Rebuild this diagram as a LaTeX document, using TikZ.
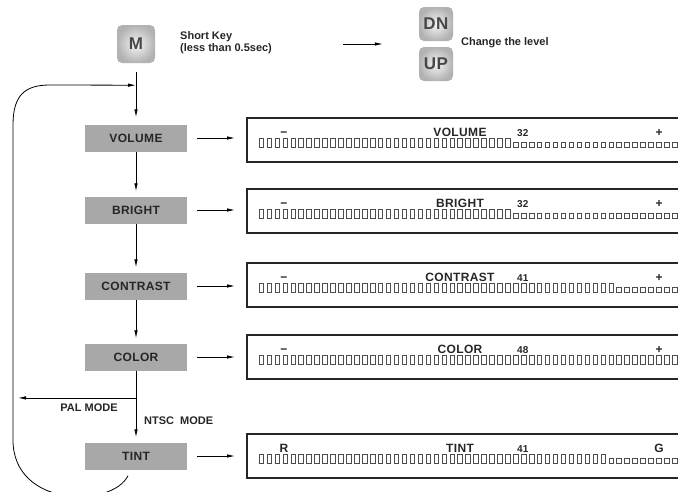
\documentclass[tikz,border=0pt]{standalone}
\usepackage{fontspec}
\setmainfont{Liberation Sans}
\newfontfamily\wide[LetterSpace=3]{Liberation Sans}
\usetikzlibrary{arrows.meta}
\usetikzlibrary{calc}
\usepackage{xcolor}
\definecolor{menugray}{HTML}{A8A8A8}
\definecolor{txtgray}{HTML}{262626}

\begin{document}
\begin{tikzpicture}[x=1pt,y=-1pt,
    menu/.style={fill=menugray, minimum width=102pt, minimum height=27pt, inner sep=0pt,
      font=\wide\fontsize{12}{14}\selectfont\bfseries, text=txtgray},
    keybtn/.style={rounded corners=5pt, inner color=gray!8, outer color=gray!60,
      minimum size=#1, inner sep=0pt, font=\wide\fontsize{17}{19}\selectfont\bfseries, text=black!72},
    arr/.style={-{Latex[length=8pt,width=3.5pt]}, line width=0.8pt},
    lbl/.style={font=\fontsize{11}{12}\selectfont\bfseries, text=txtgray, inner sep=0pt}]

      \clip (0,0) rectangle (678,491);

      % Keys
      \node[keybtn=38pt] (M) at (136,44) {M};
      \node[lbl, anchor=west, align=left] (short) at (180,43) {Short Key\\(less than 0.5sec)};
      \node[keybtn=34pt] (dn) at (436,24) {DN};
      \node[keybtn=34pt] (up) at (436,64) {UP};
      \coordinate (lvl) at ($(dn.south west)!0.5!(up.north west)$);
      \node[lbl, anchor=west] (change) at (461,43) {Change the level};
      \draw[arr] ($(lvl)+(-76,0)$) -- ($(lvl)+(-36,0)$);

      % Menu items
      \node[menu] (vol) at (136,138) {VOLUME};
      \node[menu] (bri) at (136,210) {BRIGHT};
      \node[menu] (con) at (136,286) {CONTRAST};
      \node[menu] (col) at (136,357) {COLOR};
      \node[menu] (tint) at (136,456) {TINT};

      \draw[arr, shorten <=9pt, shorten >=7pt] (M) -- (vol);
      \draw[arr, shorten >=5pt] (vol) -- (bri);
      \draw[arr, shorten >=5pt] (bri) -- (con);
      \draw[arr, shorten >=5pt] (con) -- (col);
      \draw[arr, shorten >=5pt] (col) -- (tint);

      % PAL / NTSC branch
      \coordinate (pal) at ($(col.south)!0.38!(tint.north)$);
      \draw[arr] (pal) -- ($(pal)+(-118,0)$);
      \node[lbl] at (89,408) {PAL MODE};
      \node[lbl, anchor=west] at (144,421) {NTSC\ \ MODE};

      % Loop back to the top
      \coordinate (loopin) at ($(M.south)+(0,22)$);
      \draw[arr] ($(tint.south)+(-8,6)$) .. controls (112,508) and (13,508) .. (13,440)
        -- (13,125) .. controls (13,95) and (25,85) .. (50,85) -- (loopin);

      % Level bars
      \foreach \c/\name/\val/\lo/\hi/\n in {140/VOLUME/32/−/+/32, 211/BRIGHT/32/−/+/32,
        285/CONTRAST/41/−/+/45, 357/COLOR/48/−/+/60, 456/TINT/41/R/G/44}
      {
        \coordinate (P\name) at (247,\c);
        \draw[line width=1.4pt, black!85] (247,\c-22) rectangle (700,\c+22);
        \node[lbl, anchor=base, font=\fontsize{12}{14}\selectfont\bfseries] at (284,\c-4) {\lo};
        \node[lbl, anchor=base, font=\wide\fontsize{12}{14}\selectfont\bfseries] at (460,\c-4) {\name};
        \node[lbl, anchor=base west, font=\fontsize{10}{11}\selectfont\bfseries] at (517,\c-4) {\val};
        \node[lbl, anchor=base, font=\fontsize{12}{14}\selectfont\bfseries] at (659,\c-4) {\hi};
        \foreach \i in {1,...,60}
        {
          \pgfmathsetmacro\bx{259+(\i-1)*7.95}
          \ifnum\i>\n
            \draw[line width=0.6pt, black!70] (\bx,\c+2.5) rectangle +(4.5,4.5);
          \else
            \draw[line width=0.6pt, black!70] (\bx,\c-1.5) rectangle +(4.5,8.5);
          \fi
        }
      }

      \draw[arr] ([xshift=10pt]vol.east) -- ($(vol.east -| PVOLUME)+(-12,0)$);
      \draw[arr] ([xshift=10pt]bri.east) -- ($(bri.east -| PBRIGHT)+(-12,0)$);
      \draw[arr] ([xshift=10pt]con.east) -- ($(con.east -| PCONTRAST)+(-12,0)$);
      \draw[arr] ([xshift=10pt]col.east) -- ($(col.east -| PCOLOR)+(-12,0)$);
      \draw[arr] ([xshift=10pt]tint.east) -- ($(tint.east -| PTINT)+(-12,0)$);
\end{tikzpicture}
\end{document}
